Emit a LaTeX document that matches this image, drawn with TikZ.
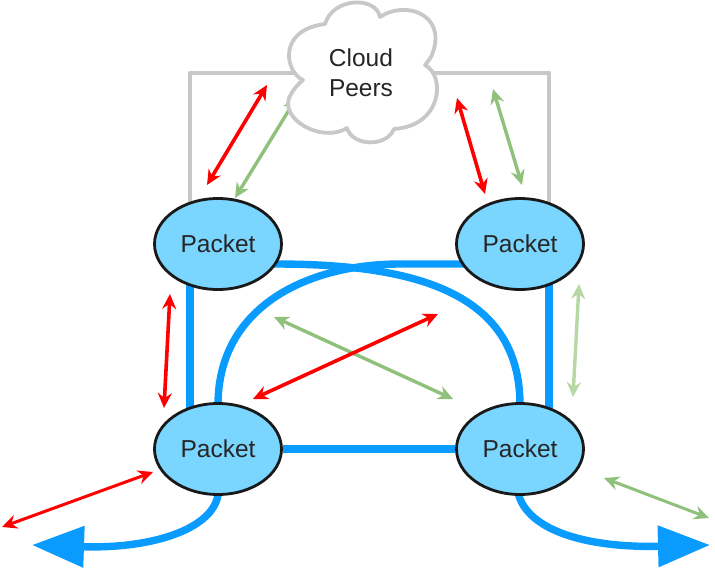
\documentclass[tikz,border=0pt]{standalone}
\usepackage{fontspec}
\setmainfont{Liberation Sans}
\usetikzlibrary{arrows.meta,shapes.geometric,backgrounds}
\definecolor{pblue}{HTML}{0A9BFF}
\definecolor{pfill}{HTML}{7AD5FF}
\definecolor{pgreen}{HTML}{8FC17A}
\definecolor{plgreen}{HTML}{B5D8A4}
\definecolor{pgray}{HTML}{C8C8C8}
\tikzset{
  x=1pt,y=-1pt,
  packet/.style={ellipse,draw=black!90,line width=2.8pt,fill=pfill,minimum width=127pt,minimum height=91pt,inner sep=0pt,font=\fontsize{24.5}{26}\selectfont,text=black!85},
  link/.style={draw=pblue,line width=7.4pt},
  frame/.style={draw=pgray,line width=4.2pt,line join=round},
  tips/.style={{Stealth[length=15pt,width=14pt,inset=5pt]}-{Stealth[length=15pt,width=14pt,inset=5pt]}},
  redarr/.style={tips,draw=red,fill=red,line width=3.6pt},
  greenarr/.style={tips,draw=pgreen,fill=pgreen,line width=3.4pt},
  thinner/.style={line width=3pt},
  outarr/.style={draw=pblue,line width=7.4pt,-{Triangle[length=52pt,width=40pt]}},
}
\begin{document}
\begin{tikzpicture}
\useasboundingbox (0,0) rectangle (715,568);
% nodes
\node[packet] (tl) at (218,244) {Packet};
\node[packet] (tr) at (520,244) {Packet};
\node[packet] (bl) at (218,449) {Packet};
\node[packet] (br) at (520,449) {Packet};
\begin{scope}[on background layer]
\draw[frame] ([xshift=-28pt]tl.center) -- (190,73) -- (549,73) -- ([xshift=29pt]tr.center);
\draw[link] ([xshift=-28pt]tl.center) -- ([xshift=-28pt]bl.center);
\draw[link] ([xshift=29pt]tr.center) -- ([xshift=29pt]br.center);
\draw[link] (bl) -- (br);
\draw[link] ([yshift=-20pt]tl.center) -- (275,264) .. controls (410,264) and (520,290) .. (520,405) -- (br.center);
\draw[link] ([yshift=-20pt]tr.center) -- (400,264) .. controls (310,264) and (218,305) .. (218,405) -- (bl.center);
\draw[outarr] (bl.center) -- (218,495) .. controls (212,530) and (150,549) .. (32,545);
\draw[outarr] (br.center) -- (518,493) .. controls (528,532) and (590,548) .. (710,545);
\end{scope}
% arrow partly behind the cloud
\coordinate (c3) at (297,97); \coordinate (c4) at (235,198);
\draw[greenarr] (c3) -- (c4);
% cloud
\path[fill=white,draw=pgray,line width=3.8pt,line join=round]
 (303,80) .. controls (285,72) and (277,30) .. (325,24)
 .. controls (333,-3) and (376,-4) .. (380,17)
 .. controls (405,0) and (446,14) .. (433,52)
 .. controls (432,57) and (428,61) .. (425,65)
 .. controls (446,76) and (442,126) .. (394,129)
 .. controls (386,148) and (352,146) .. (347,128)
 .. controls (322,144) and (276,118) .. (291,94)
 .. controls (294,89) and (298,84) .. (303,80) -- cycle;
\node[font=\fontsize{24.5}{30}\selectfont,align=center,text=black!85,inner sep=0pt] (cl) at (361,73) {Cloud\\Peers};
\coordinate (c1) at (267,85); \coordinate (c2) at (207,185);
\draw[redarr] (c1) -- (c2);
\coordinate (c5) at (457,98); \coordinate (c6) at (485,194);
\draw[redarr] (c5) -- (c6);
\coordinate (c7) at (493,89); \coordinate (c8) at (522,185);
\draw[greenarr] (c7) -- (c8);
\coordinate (m1) at (170,294); \coordinate (m2) at (164,408);
\draw[redarr] (m1) -- (m2);
\coordinate (m3) at (579,284); \coordinate (m4) at (573,397);
\draw[greenarr,draw=plgreen,fill=plgreen] (m3) -- (m4);
\coordinate (x1) at (274,317); \coordinate (x2) at (453,399);
\draw[greenarr] (x1) -- (x2);
\coordinate (x3) at (438,314); \coordinate (x4) at (253,399);
\draw[redarr] (x3) -- (x4);
\coordinate (b1) at (153,472); \coordinate (b2) at (2,527);
\draw[redarr,thinner] (b1) -- (b2);
\coordinate (b3) at (604,478); \coordinate (b4) at (709,518);
\draw[greenarr,thinner] (b3) -- (b4);
\end{tikzpicture}
\end{document}
